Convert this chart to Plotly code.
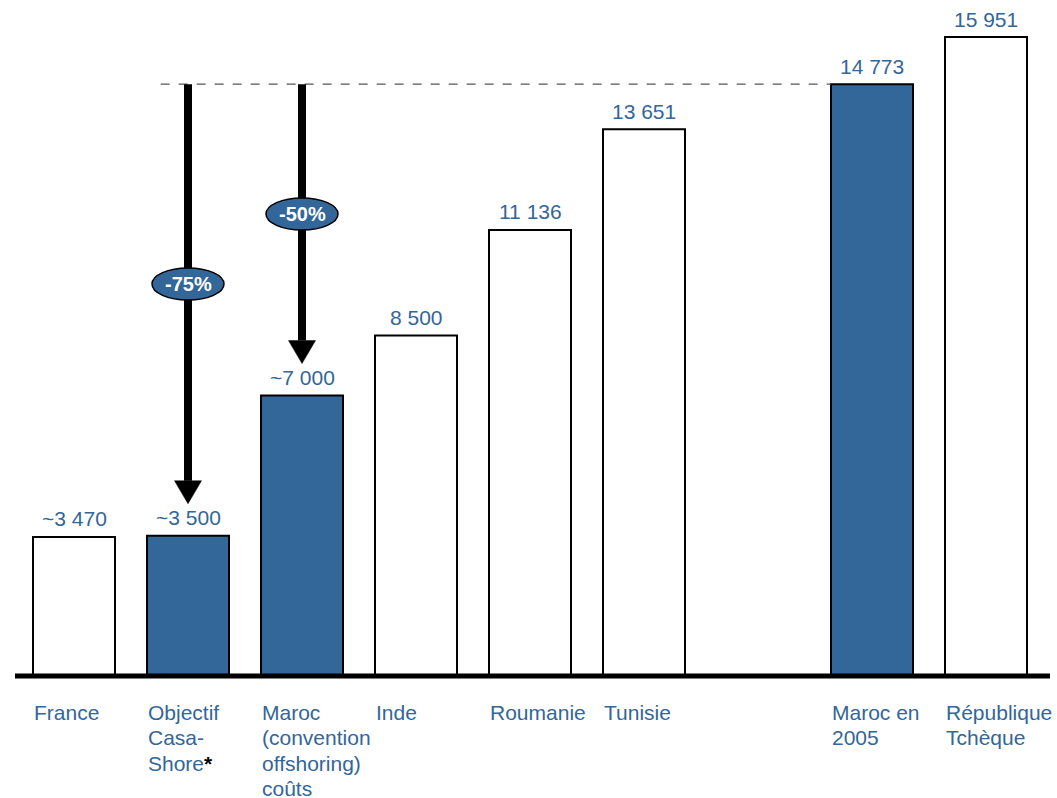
import plotly.graph_objects as go

# ---- data ----
categories = ["France", "Objectif<br>Casa-<br>Shore<span style='color:black'><b>*</b></span>",
              "Maroc<br>(convention<br>offshoring)<br>coûts",
              "Inde", "Roumanie", "Tunisie", "Maroc en<br>2005", "République<br>Tchèque"]
positions = [0, 1, 2, 3, 4, 5, 7, 8]
values = [3470, 3500, 7000, 8500, 11136, 13651, 14773, 15951]
value_labels = ["~3 470", "~3 500", "~7 000", "8 500", "11 136", "13 651", "14 773", "15 951"]
highlight = [False, True, True, False, False, False, True, False]
reduction_labels = ["-75%", "-50%"]
reduction_from = 6          # index of the reference bar (Maroc en 2005)
reduction_to = [1, 2]       # indices of target bars

# ---- layout constants ----
W, H = 1057, 798
BLUE = "#336699"
TXT = "#336699"
FONT = "Arial, Liberation Sans, sans-serif"
PX_PER_SLOT = 114.0
X0_PX = 74.0
BASE_PX = 676.0
PX_PER_UNIT = 0.04006
xr = [(0 - X0_PX) / PX_PER_SLOT, (W - X0_PX) / PX_PER_SLOT]
yr = [-(H - BASE_PX) / PX_PER_UNIT, BASE_PX / PX_PER_UNIT]
U_PER_PX = 1.0 / PX_PER_UNIT
BAR_W = 82 / PX_PER_SLOT

fig = go.Figure()
fig.add_trace(go.Bar(
    x=positions, y=values, width=BAR_W,
    marker=dict(color=[BLUE if h else "white" for h in highlight],
                line=dict(color="black", width=2)),
    hoverinfo="skip",
))

annotations = []
shapes = []

# value labels
for p, v, lab in zip(positions, values, value_labels):
    annotations.append(dict(x=p, y=v, text=lab, showarrow=False, xanchor="center", yanchor="middle",
                            yshift=18, font=dict(family=FONT, size=21, color=TXT)))

# category labels (one annotation per line)
for p, cat in zip(positions, categories):
    for i, line in enumerate(cat.split("<br>")):
        annotations.append(dict(x=p - BAR_W / 2, y=0, text=line, showarrow=False,
                                xanchor="left", yanchor="middle", xshift=-1,
                                yshift=-(36 + 25.6 * i),
                                font=dict(family=FONT, size=21, color=TXT)))

ref_val = values[reduction_from]
ref_pos = positions[reduction_from]

# dashed reference line
shapes.append(dict(type="line", xref="x", yref="y",
                   x0=positions[reduction_to[0]] - 0.24, x1=ref_pos - BAR_W / 2,
                   y0=ref_val, y1=ref_val,
                   line=dict(color="#555555", width=1.2, dash="dash")))

# arrows + ellipses
ell_px = [284, 214]
for k, (ti, lab) in enumerate(zip(reduction_to, reduction_labels)):
    xp = positions[ti]
    tgt = values[ti]
    tip = tgt + 32 * U_PER_PX
    base = tip + 23 * U_PER_PX
    shapes.append(dict(type="line", xref="x", yref="y", x0=xp, x1=xp, y0=base, y1=ref_val,
                       line=dict(color="black", width=8)))
    shapes.append(dict(type="path", xref="x", yref="y", xsizemode="pixel", ysizemode="pixel",
                       xanchor=xp, yanchor=tip,
                       path="M -13.5,23 L 13.5,23 L 0,0 Z",
                       fillcolor="black", line=dict(color="black", width=0.5)))
    ey = (BASE_PX - ell_px[k]) / PX_PER_UNIT
    shapes.append(dict(type="circle", xref="x", yref="y", xsizemode="pixel", ysizemode="pixel",
                       xanchor=xp, yanchor=ey, x0=-36, x1=36, y0=-16, y1=16,
                       fillcolor=BLUE, line=dict(color="black", width=1.5)))
    annotations.append(dict(x=xp, y=ey, text="<b>" + lab + "</b>", showarrow=False,
                            xanchor="center", yanchor="middle",
                            font=dict(family=FONT, size=20, color="white")))

# baseline axis
shapes.append(dict(type="line", xref="paper", yref="y", x0=15 / W, x1=1050 / W, y0=0, y1=0,
                   line=dict(color="black", width=5)))

fig.update_layout(
    width=W, height=H, margin=dict(l=0, r=0, t=0, b=0),
    paper_bgcolor="white", plot_bgcolor="white", showlegend=False,
    xaxis=dict(range=xr, visible=False, fixedrange=True),
    yaxis=dict(range=yr, visible=False, fixedrange=True),
    annotations=annotations, shapes=shapes,
)
fig.write_html("out.html")
